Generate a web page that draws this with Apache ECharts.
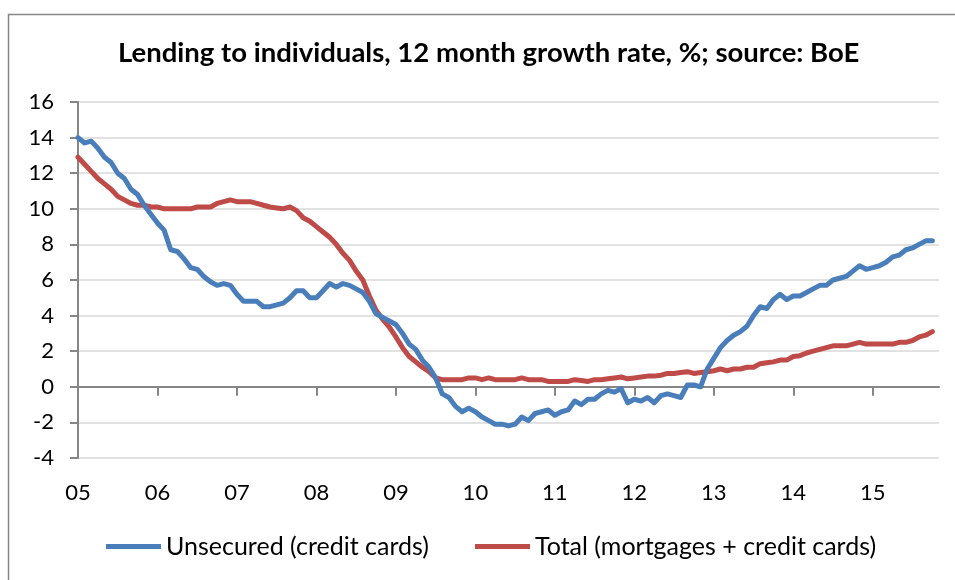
<!DOCTYPE html>
<html>
<head>
<meta charset="utf-8">
<script src="https://cdn.jsdelivr.net/npm/echarts@6/dist/echarts.min.js"></script>
<style>
html, body { margin: 0; padding: 0; background: #fff; }
#chart { width: 955px; height: 580px; }
</style>
</head>
<body>
<div id="chart"></div>
<script>
// years shown on the axis, one tick per January
var yearLabels = ['05', '06', '07', '08', '09', '10', '11', '12', '13', '14', '15'];

// unsecured lending (credit cards), 12m growth %, monthly from Jan 2005
var unsecured = [
	14.0, 13.7, 13.8, 13.4, 12.9, 12.6, 12.0, 11.7, 11.1, 10.8, 10.2, 9.7,
	9.2, 8.8, 7.7, 7.6, 7.2, 6.7, 6.6, 6.2, 5.9, 5.7, 5.8, 5.7,
	5.2, 4.8, 4.8, 4.8, 4.5, 4.5, 4.6, 4.7, 5.0, 5.4, 5.4, 5.0,
	5.0, 5.4, 5.8, 5.6, 5.8, 5.7, 5.5, 5.3, 4.8, 4.1, 3.9, 3.7,
	3.5, 3.0, 2.4, 2.1, 1.5, 1.1, 0.5, -0.4, -0.6, -1.1, -1.4, -1.2,
	-1.4, -1.7, -1.9, -2.1, -2.1, -2.2, -2.1, -1.7, -1.9, -1.5, -1.4, -1.3,
	-1.6, -1.4, -1.3, -0.8, -1.0, -0.7, -0.7, -0.4, -0.2, -0.3, -0.1, -0.9,
	-0.7, -0.8, -0.6, -0.9, -0.5, -0.4, -0.5, -0.6, 0.1, 0.1, 0.0, 1.0,
	1.6, 2.2, 2.6, 2.9, 3.1, 3.4, 4.0, 4.5, 4.4, 4.9, 5.2, 4.9,
	5.1, 5.1, 5.3, 5.5, 5.7, 5.7, 6.0, 6.1, 6.2, 6.5, 6.8, 6.6,
	6.7, 6.8, 7.0, 7.3, 7.4, 7.7, 7.8, 8.0, 8.2, 8.2
];

// total lending (mortgages + credit cards), 12m growth %, monthly from Jan 2005
var total = [
	12.9, 12.5, 12.1, 11.7, 11.4, 11.1, 10.7, 10.5, 10.3, 10.2, 10.2, 10.1,
	10.1, 10.0, 10.0, 10.0, 10.0, 10.0, 10.1, 10.1, 10.1, 10.3, 10.4, 10.5,
	10.4, 10.4, 10.4, 10.3, 10.2, 10.1, 10.05, 10.0, 10.1, 9.9, 9.5, 9.3,
	9.0, 8.7, 8.4, 8.0, 7.5, 7.1, 6.5, 6.0, 5.1, 4.3, 3.8, 3.35,
	2.8, 2.2, 1.7, 1.4, 1.1, 0.85, 0.5, 0.4, 0.4, 0.4, 0.4, 0.5,
	0.5, 0.4, 0.5, 0.4, 0.4, 0.4, 0.4, 0.5, 0.4, 0.4, 0.4, 0.3,
	0.3, 0.3, 0.3, 0.4, 0.35, 0.3, 0.4, 0.4, 0.45, 0.5, 0.55, 0.45,
	0.5, 0.55, 0.6, 0.6, 0.65, 0.75, 0.75, 0.8, 0.85, 0.75, 0.8, 0.85,
	0.9, 1.0, 0.9, 1.0, 1.0, 1.1, 1.1, 1.3, 1.35, 1.4, 1.5, 1.5,
	1.7, 1.75, 1.9, 2.0, 2.1, 2.2, 2.3, 2.3, 2.3, 2.4, 2.5, 2.4,
	2.4, 2.4, 2.4, 2.4, 2.5, 2.5, 2.6, 2.8, 2.9, 3.1
];

var seriesNames = ['Unsecured (credit cards)', 'Total (mortgages + credit cards)'];

var yMin = -4, yMax = 16;

// month categories Jan 2005 .. Nov 2015
var months = [];
yearLabels.forEach(function (y) {
	for (var m = 1; m <= 12; m++) {
		months.push(y + '-' + (m < 10 ? '0' + m : m));
	}
});
months = months.slice(0, 131);

var FONT = 'Lato';
var AXIS_GREY = '#868686';
var gridTop = 102, gridBottom = 122;
var plotHeight = 580 - gridTop - gridBottom;
// the zero line sits inside the plot; a top axis pushed down onto it carries line + ticks
var zeroOffset = -plotHeight * yMax / (yMax - yMin);

var chart = echarts.init(document.getElementById('chart'), null, { renderer: 'canvas' });

var option = {
	animation: false,
	backgroundColor: '#fff',
	textStyle: { fontFamily: FONT },
	title: {
		text: 'Lending to individuals, 12 month growth rate, %; source: BoE',
		left: 113,
		top: 34,
		textStyle: { fontFamily: FONT, fontSize: 27.5, fontWeight: 'bold', color: '#000' }
	},
	graphic: [{
		type: 'rect',
		shape: { x: 8.5, y: 14.5, width: 960, height: 600 },
		style: { fill: 'none', stroke: AXIS_GREY, lineWidth: 1.5 },
		silent: true
	}],
	legend: {
		bottom: 16,
		left: 101,
		icon: 'rect',
		itemWidth: 55,
		itemHeight: 5,
		itemGap: 46,
		textStyle: { fontFamily: FONT, fontSize: 25, color: '#000' },
		data: seriesNames
	},
	grid: { left: 78, right: 16, top: gridTop, bottom: gridBottom, containLabel: false },
	xAxis: [{
		type: 'category',
		data: months,
		boundaryGap: false,
		position: 'bottom',
		axisLine: { show: false, onZero: false },
		axisTick: { show: false },
		axisLabel: {
			interval: 11,
			formatter: function (v) { return v.slice(0, 2); },
			margin: 24,
			fontFamily: FONT,
			fontSize: 22,
			color: '#000'
		},
		splitLine: { show: false }
	}, {
		type: 'category',
		data: months,
		boundaryGap: false,
		position: 'top',
		offset: zeroOffset,
		axisLine: { show: true, onZero: false, lineStyle: { color: AXIS_GREY, width: 2 } },
		axisTick: {
			show: true,
			interval: 11,
			inside: true,
			length: 9,
			lineStyle: { color: AXIS_GREY, width: 2 }
		},
		axisLabel: { show: false, interval: 11 },
		splitLine: { show: false }
	}],
	yAxis: {
		type: 'value',
		min: yMin,
		max: yMax,
		interval: 2,
		axisLine: { show: true, lineStyle: { color: AXIS_GREY, width: 2 } },
		axisTick: { show: true, length: 8, lineStyle: { color: AXIS_GREY, width: 2 } },
		axisLabel: { margin: 24, fontFamily: FONT, fontSize: 22, color: '#000' },
		splitLine: { lineStyle: { color: '#d9d9d9', width: 1.5 } }
	},
	series: [{
		name: seriesNames[0],
		type: 'line',
		xAxisIndex: 0,
		data: unsecured,
		showSymbol: false,
		color: '#4a7ebb',
		lineStyle: { width: 5, color: '#4a7ebb', join: 'round', cap: 'round' },
		z: 3
	}, {
		name: seriesNames[1],
		type: 'line',
		xAxisIndex: 0,
		data: total,
		showSymbol: false,
		color: '#be4b48',
		lineStyle: { width: 5, color: '#be4b48', join: 'round', cap: 'round' },
		z: 2
	}]
};

chart.setOption(option);
</script>
</body>
</html>
